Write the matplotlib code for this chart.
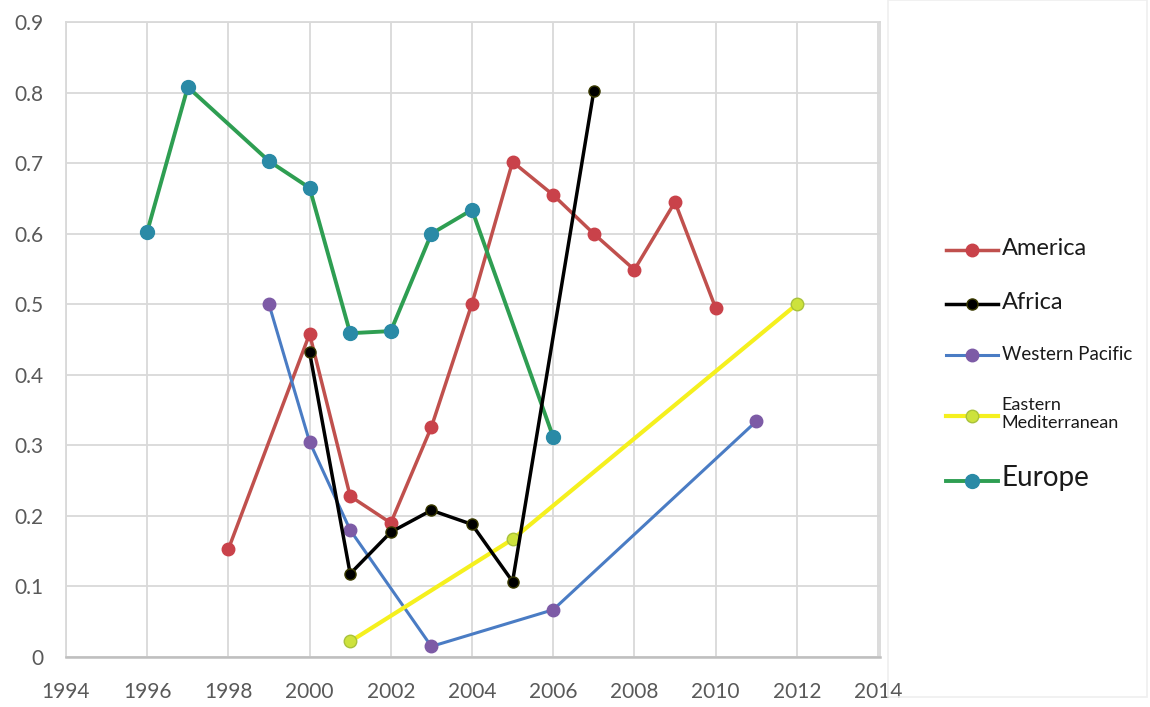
import matplotlib.pyplot as plt
from matplotlib.patches import Rectangle

# Data
europe_years = [1996, 1997, 1999, 2000, 2001, 2002, 2003, 2004, 2006]
europe_vals = [0.603, 0.808, 0.703, 0.665, 0.459, 0.462, 0.600, 0.634, 0.312]

america_years = [1998, 2000, 2001, 2002, 2003, 2004, 2005, 2006, 2007, 2008, 2009, 2010]
america_vals = [0.153, 0.458, 0.228, 0.190, 0.326, 0.501, 0.702, 0.655, 0.600, 0.549, 0.645, 0.495]

africa_years = [2000, 2001, 2002, 2003, 2004, 2005, 2007]
africa_vals = [0.432, 0.118, 0.177, 0.208, 0.188, 0.107, 0.802]

wpac_years = [1999, 2000, 2001, 2003, 2006, 2011]
wpac_vals = [0.500, 0.305, 0.180, 0.015, 0.067, 0.334]

emed_years = [2001, 2005, 2012]
emed_vals = [0.022, 0.167, 0.500]

x_ticks = list(range(1994, 2015, 2))
y_ticks = [0, 0.1, 0.2, 0.3, 0.4, 0.5, 0.6, 0.7, 0.8, 0.9]
y_labels = ["0", "0.1", "0.2", "0.3", "0.4", "0.5", "0.6", "0.7", "0.8", "0.9"]

plt.rcParams["font.family"] = ["Lato", "DejaVu Sans"]

fig = plt.figure(figsize=(11.5, 7.07), dpi=100)
ax = fig.add_axes([0.0574, 0.0707, 0.7078, 0.898])

ax.plot(america_years, america_vals, color="#c0504d", lw=2.5, marker="o", ms=9,
        mfc="#c9424a", mec="#c9424a", label="America", zorder=3)
ax.plot(africa_years, africa_vals, color="#000000", lw=2.5, marker="o", ms=8,
        mfc="#000000", mec="#3a3a00", label="Africa", zorder=4)
ax.plot(wpac_years, wpac_vals, color="#4a7cc4", lw=2.2, marker="o", ms=9,
        mfc="#7d5ba6", mec="#7d5ba6", label="Western Pacific", zorder=3)
ax.plot(emed_years, emed_vals, color="#f5f01e", lw=3, marker="o", ms=9,
        mfc="#cde23c", mec="#a9c23a", label="Eastern\nMediterranean", zorder=3)
ax.plot(europe_years, europe_vals, color="#2e9e52", lw=2.8, marker="o", ms=10,
        mfc="#2a8aa6", mec="#2a8aa6", label="Europe", zorder=3)

ax.set_xlim(1994, 2014.05)
ax.set_ylim(0, 0.9)
ax.set_xticks(x_ticks)
ax.set_yticks(y_ticks)
ax.set_yticklabels(y_labels)
ax.grid(True, color="#d9d9d9", lw=1.3)
ax.set_axisbelow(True)
ax.tick_params(length=0, labelsize=15, colors="#595959")
ax.tick_params(axis="x", pad=18)
ax.tick_params(axis="y", pad=16)
for side in ["top", "right", "left"]:
    ax.spines[side].set_color("#d9d9d9")
    ax.spines[side].set_linewidth(1.3)
ax.spines["bottom"].set_color("#bfbfbf")
ax.spines["bottom"].set_linewidth(1.8)

# faint frame around legend area
fig.patches.append(Rectangle((0.772, 0.014), 0.225, 0.986, transform=fig.transFigure,
                             fill=False, ec="#efefef", lw=1.2))

leg = ax.legend(loc="center left", bbox_to_anchor=(0.818, 0.485), bbox_transform=fig.transFigure,
                frameon=False, handlelength=3.7, handletextpad=0.3, labelspacing=2.4,
                borderaxespad=0)
sizes = [17, 17, 13.5, 13, 20]
for txt, s in zip(leg.get_texts(), sizes):
    txt.set_fontsize(s)
    txt.set_color("#1a1a1a")

fig.savefig("out.png", dpi=100, facecolor="white")
